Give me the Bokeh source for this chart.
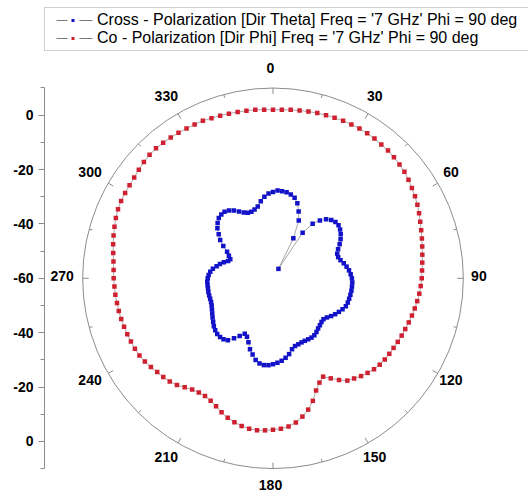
import numpy as np
from bokeh.plotting import figure
from bokeh.models import Range1d, LinearAxis, FixedTicker, Legend, LegendItem
from bokeh.core.properties import value
from bokeh.embed import file_html
from bokeh.resources import INLINE

# ---------------- data ----------------
THETA_DEG = list(range(0, 360, 3))

CROSS_DB = [
    -28.3, -27.7, -27.8, -28.0, -28.5, -29.3, -31.0, -33.7, -36.7, -43.5,
    -56.0, -40.0, -35.2, -32.6, -30.8, -29.7, -29.1, -29.0, -29.5, -30.3,
    -31.3, -32.5, -33.8, -34.7, -34.8, -34.3, -33.4, -32.6, -31.9, -31.4,
    -31.0, -30.8, -30.8, -30.8, -30.9, -31.0, -31.1, -31.3, -32.0, -32.8,
    -33.6, -34.5, -35.5, -36.1, -36.0, -35.6, -35.2, -34.6, -34.1, -34.0,
    -34.1, -34.2, -34.2, -34.0, -33.8, -33.0, -31.5, -30.4, -29.5, -28.9,
    -28.4, -28.0, -27.9, -28.3, -29.3, -31.0, -32.6, -34.8, -36.5, -37.1,
    -35.5, -33.7, -31.8, -31.1, -30.9, -31.0, -31.4, -32.0, -32.8, -33.5,
    -34.2, -34.8, -35.3, -35.6, -35.7, -35.7, -35.7, -35.8, -35.8, -35.8,
    -36.0, -36.3, -36.8, -37.6, -38.8, -39.8, -41.0, -42.3, -42.8, -41.8,
    -40.5, -38.2, -36.0, -34.3, -32.5, -31.2, -30.2, -29.8, -29.7, -30.3,
    -31.2, -32.4, -33.5, -34.2, -34.3, -33.8, -33.0, -31.3, -29.8, -28.8,
]

CO_DB = [
    2.0, 2.1, 2.3, 2.5, 2.7, 2.9, 3.1, 3.2, 3.4, 3.5,
    3.6, 3.6, 3.5, 3.3, 3.2, 2.9, 2.6, 2.2, 1.6, 0.9,
    0.3, -0.4, -1.2, -2.0, -2.7, -3.3, -3.9, -4.4, -4.8, -5.1,
    -5.3, -5.6, -5.9, -6.3, -6.7, -7.1, -7.5, -7.9, -8.2, -8.5,
    -8.8, -9.0, -9.2, -9.5, -10.0, -10.8, -11.6, -12.6, -13.5, -15.4,
    -17.5, -19.4, -18.0, -15.8, -12.6, -10.0, -8.0, -6.3, -5.2, -4.6,
    -4.3, -4.0, -3.8, -4.0, -4.5, -5.2, -6.1, -7.2, -8.5, -9.5,
    -10.0, -9.9, -9.4, -8.4, -7.2, -6.3, -5.7, -5.2, -4.5, -3.8,
    -3.3, -3.0, -2.8, -2.6, -2.4, -2.2, -2.0, -1.9, -1.7, -1.6,
    -1.4, -1.3, -1.0, -0.5, 0.1, 0.7, 1.3, 1.9, 2.4, 2.7,
    2.8, 2.9, 3.1, 3.5, 3.9, 4.2, 4.3, 4.2, 4.0, 3.8,
    3.6, 3.5, 3.4, 3.1, 2.9, 2.7, 2.5, 2.4, 2.3, 2.1,
]

R_MIN, R_MAX = -60, 10
RADIAL_MAJOR = [-60, -40, -20, 0]
RADIAL_MINOR = [-50, -30, -10, 10]
ANGLE_MAJOR = list(range(0, 360, 30))
ANGLE_MINOR = list(range(15, 360, 30))
ANGLE_LABELS = [str(a) for a in ANGLE_MAJOR]

LABEL_CROSS = "Cross - Polarization [Dir Theta] Freq = '7 GHz' Phi = 90 deg"
LABEL_CO = "Co - Polarization [Dir Phi] Freq = '7 GHz' Phi = 90 deg"

RED = "#cf2030"
BLUE = "#1212c8"
GRAY = "#8c8c8c"
FONT = "Liberation Sans"

# ---------------- layout ----------------
W, H = 528, 492
LEFT = 44
CX, CY = 272.5, 277.8      # pixel position of polar centre
PX = 2.719                 # pixels per dB

def polar(theta_deg, db):
    t = np.radians(np.asarray(theta_deg, dtype=float))
    r = np.clip(np.asarray(db, dtype=float) - R_MIN, 0, None)
    return r * np.sin(t), r * np.cos(t)

p = figure(width=W, height=H, output_backend="svg", toolbar_location=None,
           x_axis_type=None, y_axis_type=None,
           x_range=Range1d((LEFT - CX) / PX, (W - CX) / PX),
           y_range=Range1d(-(H - CY) / PX, CY / PX),
           min_border_left=LEFT, min_border_right=0,
           min_border_top=0, min_border_bottom=0)
p.outline_line_color = None
p.background_fill_color = "white"
p.border_fill_color = "white"

# radial axis on the left
R_OUT = R_MAX - R_MIN
major_pos, overrides = [], {}
for v in RADIAL_MAJOR:
    r = float(v - R_MIN)
    for s in (1, -1):
        major_pos.append(s * r)
        overrides[s * r] = str(v)
minor_pos = []
for v in RADIAL_MINOR:
    r = float(v - R_MIN)
    minor_pos += [r, -r]

yaxis = LinearAxis(ticker=FixedTicker(ticks=sorted(set(major_pos)), minor_ticks=sorted(minor_pos)),
                   major_label_overrides=overrides, bounds=(-R_OUT, R_OUT),
                   axis_line_color=GRAY, axis_line_width=1,
                   major_tick_line_color=GRAY, minor_tick_line_color=GRAY,
                   major_tick_out=6, major_tick_in=0, minor_tick_out=4, minor_tick_in=0,
                   major_label_text_font=FONT, major_label_text_font_size="14px",
                   major_label_text_font_style="bold", major_label_text_color="black",
                   major_label_standoff=5)
p.add_layout(yaxis, "left")

# outer circle
p.circle(x=[0], y=[0], radius=R_OUT, fill_color=None, line_color=GRAY, line_width=1)

# angular ticks (inward)
def tick_segments(angles, length_px):
    t = np.radians(np.asarray(angles, dtype=float))
    r0 = R_OUT
    r1 = R_OUT - length_px / PX
    return r0 * np.sin(t), r0 * np.cos(t), r1 * np.sin(t), r1 * np.cos(t)

for angles, ln in ((ANGLE_MAJOR, 6), (ANGLE_MINOR, 3.5)):
    x0, y0, x1, y1 = tick_segments(angles, ln)
    p.segment(x0=x0, y0=y0, x1=x1, y1=y1, line_color=GRAY, line_width=1)

# angle labels
LAB_R = 208.4 / PX
LAB_DX, LAB_DY = -2.5 / PX, 2.1 / PX
ta = np.radians(np.asarray(ANGLE_MAJOR, dtype=float))
p.text(x=LAB_DX + LAB_R * np.sin(ta), y=LAB_DY + LAB_R * np.cos(ta), text=ANGLE_LABELS,
       text_font=value(FONT), text_font_size="14px", text_font_style="bold",
       text_align="center", text_baseline="middle", text_color="black")

# data series
renderers = {}
for name, db, color, size in (("cross", CROSS_DB, BLUE, 4.5), ("co", CO_DB, RED, 4.5)):
    x, y = polar(THETA_DEG, db)
    xl = np.append(x, x[0])
    yl = np.append(y, y[0])
    p.line(xl, yl, line_color="#909090", line_width=0.8)
    p.scatter(x, y, marker="square", size=size, fill_color=color, line_color=None)
    # legend-only glyphs (no visible data): gray line with a gap, small coloured square
    lg = p.line([np.nan, np.nan], [np.nan, np.nan], line_color="#7a7a7a", line_width=1,
                line_dash="0 8 11 12 13 5")
    lm = p.line([np.nan, np.nan], [np.nan, np.nan], line_color=color, line_width=3,
                line_dash="0 23 3 23", line_cap="butt")
    renderers[name] = (lg, lm)

legend = Legend(items=[LegendItem(label=LABEL_CROSS, renderers=list(renderers["cross"])),
                       LegendItem(label=LABEL_CO, renderers=list(renderers["co"]))],
                location=(0, 441), orientation="vertical",
                padding=3, spacing=0, margin=0,
                glyph_width=49, glyph_height=18, label_height=18, label_width=440,
                label_standoff=0,
                label_text_font=FONT, label_text_font_size="16px", label_text_color="black",
                border_line_color="#a0a0a0", border_line_width=1,
                background_fill_color="white", background_fill_alpha=1.0)
p.add_layout(legend)

open("out.html", "w").write(file_html(p, INLINE))
